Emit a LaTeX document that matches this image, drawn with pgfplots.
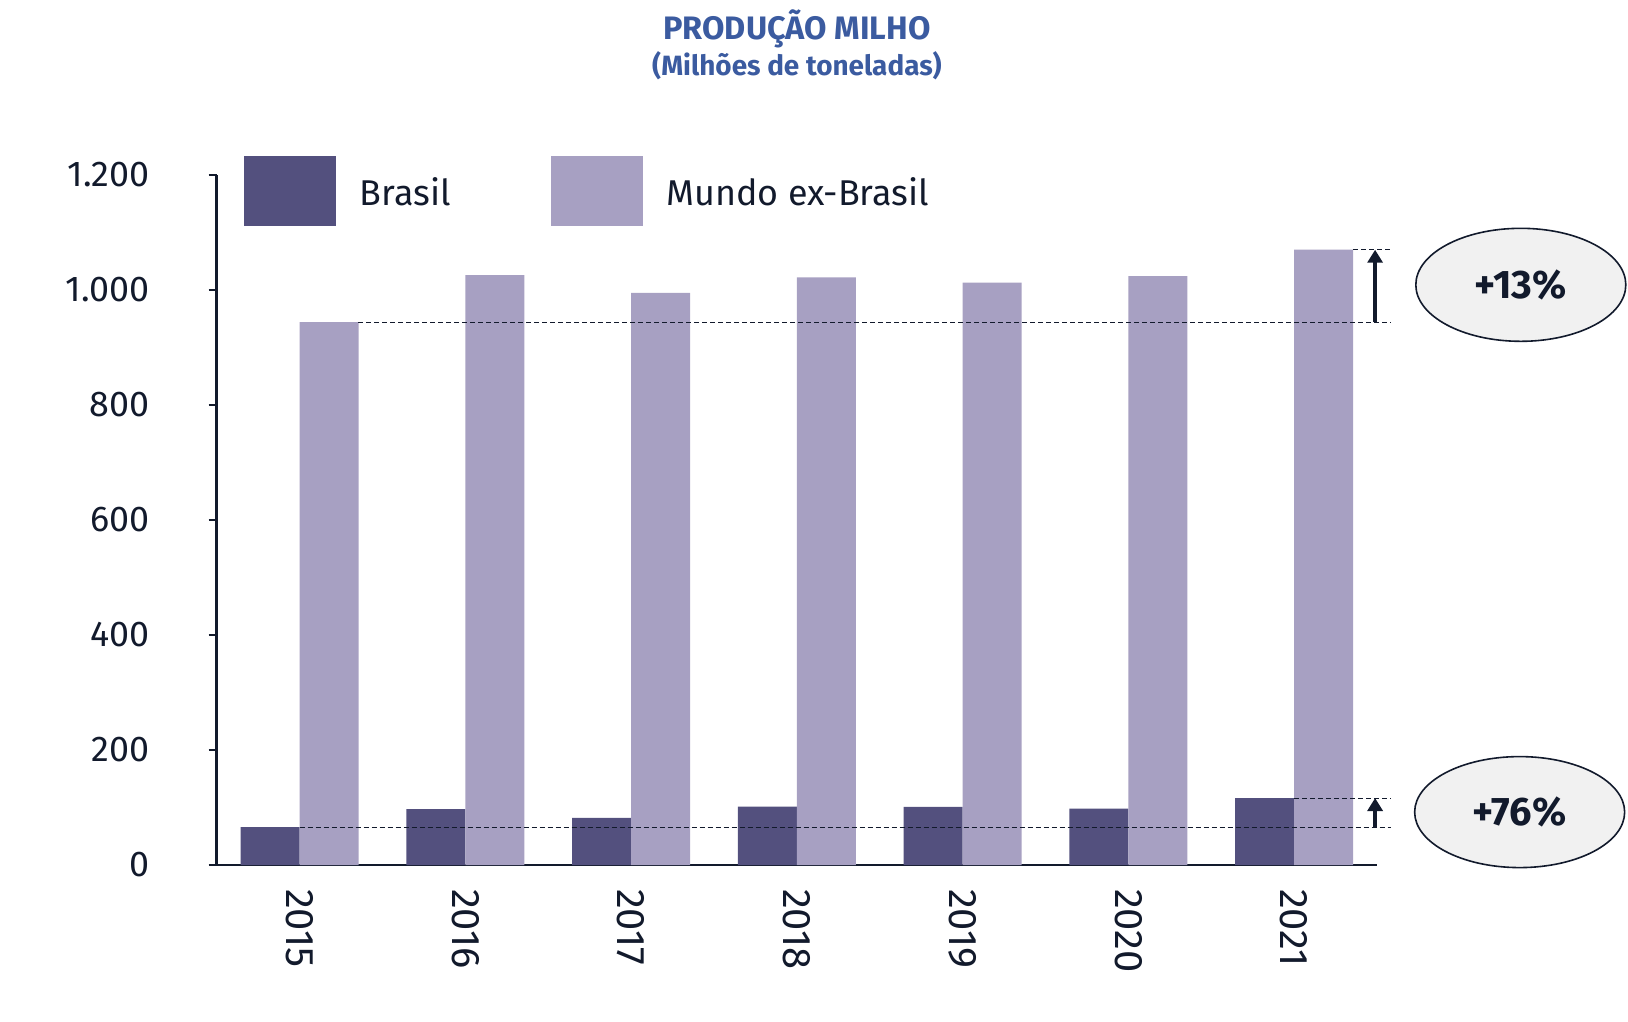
\documentclass[border=0pt]{standalone}
\usepackage{fontspec}
\setmainfont{Fira Sans}
\usepackage{pgfplots}
\pgfplotsset{compat=1.18}
\usetikzlibrary{arrows.meta,shapes.geometric}
\definecolor{brasil}{HTML}{53507E}
\definecolor{mundo}{HTML}{A7A0C2}
\definecolor{ink}{HTML}{121A2C}
\definecolor{titleblue}{HTML}{3B5BA0}
\definecolor{ellfill}{HTML}{F1F1F1}
\begin{document}
\begin{tikzpicture}
\useasboundingbox (0,0) rectangle (814bp,511bp);
\node[anchor=base, font=\bfseries\fontsize{16.3}{18}\selectfont, text=titleblue] at (398.5bp,491bp) {PRODUÇÃO MILHO};
\node[anchor=base, font=\bfseries\fontsize{14}{18}\selectfont, text=titleblue] at (398.5bp,473bp) {(Milhões de toneladas)};
\begin{axis}[
  at={(108.35bp,78.5bp)}, anchor=south west,
  scale only axis, width=580.2bp, height=345bp,
  xmin=-0.5, xmax=6.5, ymin=0, ymax=1200,
  axis lines*=left,
  axis line style={ink, line width=1.3bp},
  ytick={0,200,...,1200},
  xtick={0,...,6}, xticklabels={2015,2016,2017,2018,2019,2020,2021},
  xtick style={draw=none},
  ytick style={ink, line width=1.3bp},
  tick align=outside, major tick length=4bp,
  /pgf/number format/assume math mode=true,
  /pgf/number format/1000 sep={.},
  yticklabel style={anchor=east, inner sep=0pt, xshift=-29.35bp, font=\fontsize{18}{20}\selectfont, text=ink},
  xticklabel style={rotate=-90, anchor=west, inner sep=0pt, xshift=7.8bp, font=\fontsize{20}{22}\selectfont, text=ink},
  ybar=0pt, bar width=29.5bp,
  clip=false,
  legend columns=2,
  legend style={draw=none, fill=none, inner sep=0pt, outer sep=0pt,
    at={(axis cs:-0.337,1233)}, anchor=north west,
    font=\fontsize{18}{20}\selectfont, text=ink,
    nodes={inner sep=0pt},
    /tikz/every odd column/.append style={column sep=12bp},
    /tikz/every even column/.append style={column sep=50bp}},
]
\addplot[fill=brasil, draw=none, legend image code/.code={\fill[brasil] (0bp,-16.7bp) rectangle (46bp,18.3bp);}]
  coordinates {(0,66) (1,97) (2,82) (3,101.5) (4,101) (5,98) (6,116.5)};
\addlegendentry{Brasil}
\addplot[fill=mundo, draw=none, legend image code/.code={\fill[mundo] (0bp,-16.7bp) rectangle (46bp,18.3bp);}]
  coordinates {(0,944) (1,1026) (2,995) (3,1022) (4,1013) (5,1024) (6,1070)};
\addlegendentry{Mundo ex-Brasil}
% reference lines
\draw[ink, line width=0.5bp, dash pattern=on 2.5bp off 1.5bp] (axis cs:0.355,944) -- (axis cs:6.584,944);
\draw[ink, line width=0.5bp, dash pattern=on 2.5bp off 1.5bp] (axis cs:6.355,1070) -- (axis cs:6.584,1070);
\draw[ink, line width=0.5bp, dash pattern=on 2.5bp off 1.5bp] (axis cs:0,66) -- (axis cs:6.584,66);
\draw[ink, line width=0.5bp, dash pattern=on 2.5bp off 1.5bp] (axis cs:6,116.5) -- (axis cs:6.584,116.5);
\draw[ink, line width=2bp, -{Triangle[width=7.5bp,length=6.5bp]}] (axis cs:6.488,944) -- (axis cs:6.488,1070);
\draw[ink, line width=2bp, -{Triangle[width=7.5bp,length=6.5bp]}] (axis cs:6.488,66) -- (axis cs:6.488,116.5);
\node[ellipse, draw=ink, fill=ellfill, line width=0.8bp, minimum width=105bp, minimum height=56.5bp, inner sep=0pt, font=\bfseries\fontsize{20}{22}\selectfont, text=ink] at (axis cs:7.367,1009) {+13\%};
\node[ellipse, draw=ink, fill=ellfill, line width=0.8bp, minimum width=105bp, minimum height=55.5bp, inner sep=0pt, font=\bfseries\fontsize{20}{22}\selectfont, text=ink] at (axis cs:7.36,92) {+76\%};
\end{axis}
\end{tikzpicture}
\end{document}
